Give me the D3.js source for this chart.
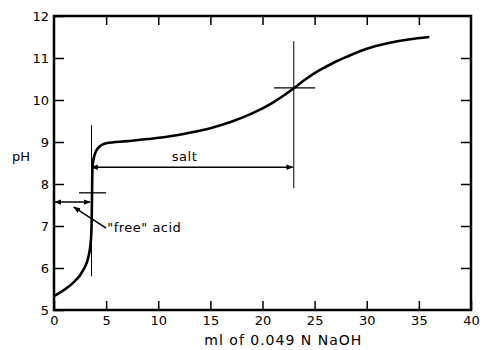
<!DOCTYPE html>
<html>
<head>
<meta charset="utf-8">
<script src="https://cdn.jsdelivr.net/npm/d3@7"></script>
<style>
  body { margin: 0; background: #fff; }
  text { font-family: "DejaVu Sans", sans-serif; fill: #000; }
</style>
</head>
<body>
<svg width="483" height="350"></svg>
<script>
// titration curve (ml NaOH, pH)
var mlNaOH = [0, 0.8, 1.8, 2.8, 3.3, 3.55, 3.62, 3.65, 3.68, 3.8, 4.2, 5, 7, 9, 11, 13, 15, 17, 19, 21, 22, 23, 24, 25, 26, 27, 28, 30, 32, 34, 36];
var pH     = [5.33, 5.45, 5.64, 5.95, 6.26, 6.7, 7.2, 7.8, 8.3, 8.6, 8.85, 8.97, 9.02, 9.07, 9.13, 9.22, 9.33, 9.48, 9.68, 9.94, 10.1, 10.28, 10.47, 10.64, 10.78, 10.91, 11.02, 11.22, 11.35, 11.44, 11.5];

var xTicks = [0, 5, 10, 15, 20, 25, 30, 35, 40];
var yTicks = [5, 6, 7, 8, 9, 10, 11, 12];

// end points: vertical + horizontal cross marks (x, y0, y1) / (y, x0, x1)
var endPoints = [
  {x: 3.6, y0: 5.8, y1: 9.4, y: 7.79, x0: 2.4, x1: 5.0},
  {x: 23, y0: 7.9, y1: 11.4, y: 10.29, x0: 21.1, x1: 25.05}
];
var saltSpan = {y: 8.4, x0: 3.6, x1: 22.9, label: "salt"};
var acidSpan = {y: 7.57, x0: 0.1, x1: 3.45, label: "\"free\" acid"};

var svg = d3.select("svg"),
    margin = {top: 16, right: 12, bottom: 40, left: 54},
    width = +svg.attr("width") - margin.left - margin.right,
    height = +svg.attr("height") - margin.top - margin.bottom,
    g = svg.append("g").attr("transform", "translate(" + margin.left + "," + margin.top + ")");

var x = d3.scaleLinear().domain([0, 40]).range([0, width]),
    y = d3.scaleLinear().domain([5, 12]).range([height, 0]);

svg.append("defs").selectAll("marker")
  .data(["start", "end"])
  .enter().append("marker")
    .attr("id", function(d) { return "arrow-" + d; })
    .attr("viewBox", "0 -5 10 10")
    .attr("refX", 9)
    .attr("markerWidth", 7)
    .attr("markerHeight", 7)
    .attr("markerUnits", "userSpaceOnUse")
    .attr("orient", function(d) { return d == "start" ? "auto-start-reverse" : "auto"; })
  .append("path")
    .attr("d", "M0,-4L10,0L0,4Z")
    .attr("fill", "#000");

// axes, ticks pointing inward on all four sides
function tickStyle(sel) {
  sel.select(".domain").remove();
  sel.selectAll("line").attr("stroke", "#000").attr("stroke-width", 1.5);
  sel.selectAll("text").style("font-size", "13px");
}

g.append("g")
    .attr("transform", "translate(0," + height + ")")
    .call(d3.axisBottom(x).tickValues(xTicks).tickSize(-9).tickPadding(6).tickFormat(d3.format("d")))
    .call(tickStyle);

g.append("g")
    .call(d3.axisTop(x).tickValues(xTicks.slice(1, -1)).tickSize(-9).tickFormat(""))
    .call(tickStyle);

g.append("g")
    .call(d3.axisLeft(y).tickValues(yTicks).tickSize(-10).tickPadding(5).tickFormat(d3.format("d")))
    .call(tickStyle);

g.append("g")
    .attr("transform", "translate(" + width + ",0)")
    .call(d3.axisRight(y).tickValues(yTicks.slice(1, -1)).tickSize(-10).tickFormat(""))
    .call(tickStyle);

g.append("rect")
    .attr("width", width)
    .attr("height", height)
    .attr("fill", "none")
    .attr("stroke", "#000")
    .attr("stroke-width", 2.5);

// curve
var line = d3.line()
    .curve(d3.curveMonotoneX)
    .x(function(d) { return x(d[0]); })
    .y(function(d) { return y(d[1]); });

g.append("path")
    .datum(d3.zip(mlNaOH, pH))
    .attr("d", line)
    .attr("fill", "none")
    .attr("stroke", "#000")
    .attr("stroke-width", 2.6);

// end point crosses
var ep = g.selectAll(".ep").data(endPoints).enter().append("g");
ep.append("line")
    .attr("x1", function(d) { return x(d.x); }).attr("x2", function(d) { return x(d.x); })
    .attr("y1", function(d) { return y(d.y0); }).attr("y2", function(d) { return y(d.y1); })
    .attr("stroke", "#000").attr("stroke-width", 1);
ep.append("line")
    .attr("x1", function(d) { return x(d.x0); }).attr("x2", function(d) { return x(d.x1); })
    .attr("y1", function(d) { return y(d.y); }).attr("y2", function(d) { return y(d.y); })
    .attr("stroke", "#000").attr("stroke-width", 1.3);

// span arrows
g.selectAll(".span").data([saltSpan, acidSpan]).enter().append("line")
    .attr("x1", function(d) { return x(d.x0); }).attr("x2", function(d) { return x(d.x1); })
    .attr("y1", function(d) { return y(d.y); }).attr("y2", function(d) { return y(d.y); })
    .attr("stroke", "#000").attr("stroke-width", 1.5)
    .attr("marker-start", "url(#arrow-start)")
    .attr("marker-end", "url(#arrow-end)");

g.append("text")
    .attr("x", x(11.3))
    .attr("y", y(saltSpan.y) - 6)
    .style("font-size", "13px")
    .style("letter-spacing", "0.5px")
    .text(saltSpan.label);

// pointer from the "free" acid label to its span
g.append("line")
    .attr("x1", x(5)).attr("y1", y(6.95))
    .attr("x2", x(1.9)).attr("y2", y(7.45))
    .attr("stroke", "#000").attr("stroke-width", 1.5)
    .attr("marker-end", "url(#arrow-end)");

g.append("text")
    .attr("x", x(5.1))
    .attr("y", y(6.86))
    .style("font-size", "13px")
    .style("letter-spacing", "0.5px")
    .text(acidSpan.label);

// axis titles
svg.append("text")
    .attr("x", 12)
    .attr("y", 161)
    .style("font-size", "13px")
    .text("pH");

svg.append("text")
    .attr("x", margin.left + x(22))
    .attr("y", 345)
    .attr("text-anchor", "middle")
    .style("font-size", "14px")
    .style("letter-spacing", "1px")
    .text("ml of 0.049 N NaOH");
</script>
</body>
</html>
